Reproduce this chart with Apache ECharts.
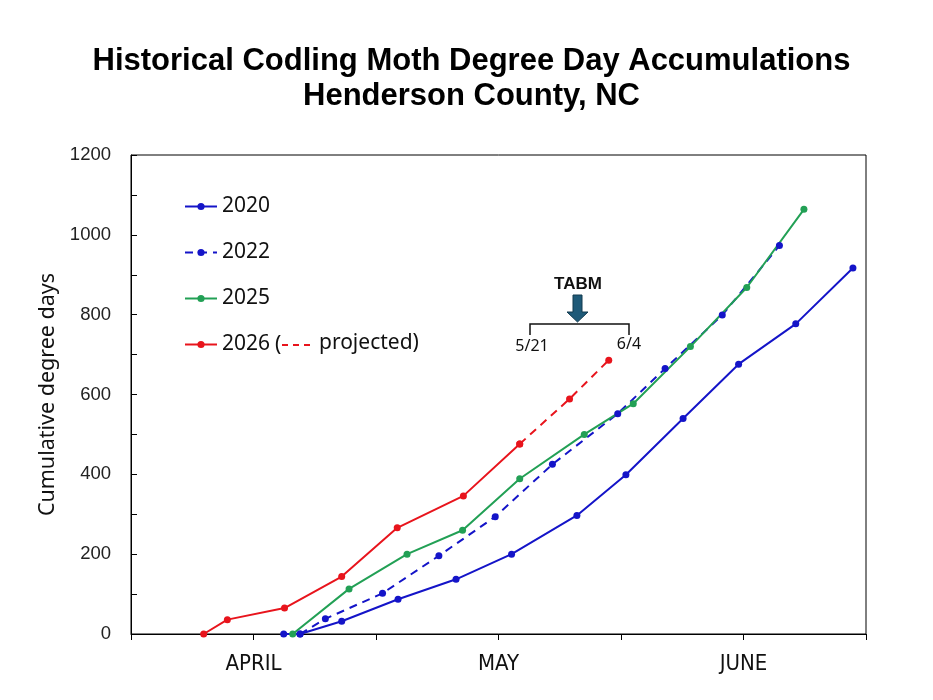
<!DOCTYPE html>
<html>
<head>
<meta charset="utf-8">
<script src="https://cdn.jsdelivr.net/npm/echarts@6/dist/echarts.min.js"></script>
<style>
  html, body { margin: 0; padding: 0; background: #fff; }
  #chart { width: 933px; height: 700px; }
</style>
</head>
<body>
<div id="chart"></div>
<script>
// x = days after Mar 17 (15 = Apr 1, 45 = May 1, 75 = Jun 1)
const monthTicks = { 15: "APRIL", 45: "MAY", 75: "JUNE" };

const days2020 = [18.7, 20.7, 25.8, 32.7, 39.8, 46.6, 54.6, 60.6, 67.6, 74.4, 81.4, 88.4];
const dd2020 = [0, 0, 32, 87, 137, 200, 297, 399, 540, 676, 777, 917];

const days2022 = [20.7, 23.8, 30.8, 37.7, 44.6, 51.6, 59.6, 65.4, 72.4, 79.4];
const dd2022 = [0, 38, 102, 196, 294, 425, 552, 665, 799, 973];

const days2025 = [19.8, 26.7, 33.8, 40.6, 47.6, 55.5, 61.5, 68.5, 75.4, 82.4];
const dd2025 = [0, 113, 200, 260, 389, 500, 577, 720, 868, 1064];

const days2026 = [8.9, 11.8, 18.8, 25.8, 32.6, 40.7, 47.6];
const dd2026 = [0, 36, 65, 144, 266, 346, 476];

const daysProj = [47.6, 53.7, 58.5];
const ddProj = [476, 589, 686];

const BLUE = "#1414C8";
const GREEN = "#22A055";
const RED = "#E8141C";

function pairs(xs, ys) {
  return xs.map((x, i) => [x, ys[i]]);
}

const chart = echarts.init(document.getElementById("chart"));

function lineSeries(name, xs, ys, color, dashed) {
  return {
    name: name,
    type: "line",
    data: pairs(xs, ys),
    symbol: "circle",
    symbolSize: 7,
    itemStyle: { color: color },
    lineStyle: { color: color, width: 2, type: dashed ? [8, 6] : "solid" },
    animation: false,
  };
}

chart.setOption({
  grid: {
    left: 131,
    right: 67,
    top: 155,
    bottom: 66,
    show: true,
    borderColor: "#000",
    borderWidth: 1,
    containLabel: false,
  },
  legend: {
    orient: "vertical",
    left: 184,
    top: 196,
    padding: 0,
    itemWidth: 32,
    itemHeight: 9,
    itemGap: 25,
    data: ["2020", "2022", "2025", "2026"],
    textStyle: { fontFamily: "Noto Sans, sans-serif", fontSize: 21, color: "#111" },
  },
  xAxis: {
    type: "value",
    min: 0,
    max: 90,
    interval: 15,
    splitLine: { show: false },
    axisLine: { lineStyle: { color: "#000", width: 1 } },
    axisTick: { show: true, length: 6, lineStyle: { color: "#000" } },
    axisLabel: {
      margin: 19,
      fontFamily: "Liberation Sans Narrow, DejaVu Sans Condensed, sans-serif",
      fontSize: 22,
      color: "#111",
      formatter: (v) => monthTicks[v] || "",
    },
  },
  yAxis: {
    type: "value",
    min: 0,
    max: 1200,
    interval: 100,
    name: "Cumulative degree days",
    nameLocation: "middle",
    nameGap: 66,
    nameRotate: 90,
    nameTextStyle: { fontFamily: "Noto Sans, sans-serif", fontSize: 21.5, color: "#111" },
    splitLine: { show: false },
    axisLine: { lineStyle: { color: "#000", width: 1 } },
    axisTick: { show: true, inside: true, length: 6, lineStyle: { color: "#000" } },
    axisLabel: {
      margin: 20,
      fontFamily: "Liberation Sans, Arial, sans-serif",
      fontSize: 18.5,
      color: "#222",
      formatter: (v) => (v % 200 === 0 ? String(v) : ""),
    },
  },
  series: [
    lineSeries("2020", days2020, dd2020, BLUE, false),
    lineSeries("2022", days2022, dd2022, BLUE, true),
    lineSeries("2025", days2025, dd2025, GREEN, false),
    lineSeries("2026", days2026, dd2026, RED, false),
    lineSeries("projected", daysProj, ddProj, RED, true),
  ],
  graphic: [
    // title
    {
      type: "text",
      x: 471.5,
      y: 61,
      style: {
        text: "Historical Codling Moth Degree Day Accumulations",
        font: "bold 31px Liberation Sans",
        fill: "#000",
        align: "center",
        verticalAlign: "middle",
      },
    },
    {
      type: "text",
      x: 471.5,
      y: 96,
      style: {
        text: "Henderson County, NC",
        font: "bold 31px Liberation Sans",
        fill: "#000",
        align: "center",
        verticalAlign: "middle",
      },
    },
    // legend note for the projection
    { type: "text", x: 275, y: 345, style: { text: "(", font: "21px Noto Sans", fill: "#111", verticalAlign: "middle" } },
    {
      type: "line",
      shape: { x1: 282, y1: 345, x2: 314, y2: 345 },
      style: { stroke: RED, lineWidth: 2, lineDash: [6, 5] },
    },
    { type: "text", x: 319, y: 343, style: { text: "projected)", font: "21px Noto Sans", fill: "#111", verticalAlign: "middle" } },
    // TABM window
    {
      type: "text",
      x: 578,
      y: 284,
      style: { text: "TABM", font: "bold 17px Liberation Sans", fill: "#111", align: "center", verticalAlign: "middle" },
    },
    {
      type: "polygon",
      shape: { points: [[573, 295], [582, 295], [582, 312], [588, 312], [577.5, 322], [567, 312], [573, 312]] },
      style: { fill: "#1F5A78", stroke: "#123a4f", lineWidth: 1 },
    },
    {
      type: "polyline",
      shape: { points: [[530, 335], [530, 324], [629, 324], [629, 335]] },
      style: { stroke: "#111", lineWidth: 1.5, fill: null },
    },
    {
      type: "text",
      x: 532,
      y: 346,
      style: { text: "5/21", font: "16px Noto Sans", fill: "#111", align: "center", verticalAlign: "middle" },
    },
    {
      type: "text",
      x: 629,
      y: 344,
      style: { text: "6/4", font: "16px Noto Sans", fill: "#111", align: "center", verticalAlign: "middle" },
    },
  ],
});
</script>
</body>
</html>
